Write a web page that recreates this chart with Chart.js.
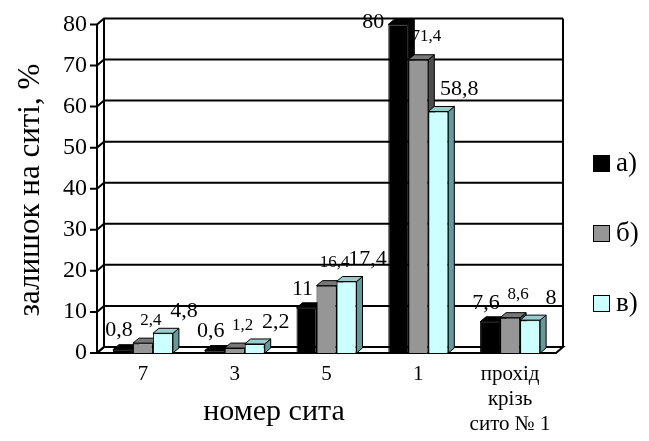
<!DOCTYPE html>
<html>
<head>
<meta charset="utf-8">
<script src="https://cdn.jsdelivr.net/npm/chart.js@4.4.0/dist/chart.umd.min.js"></script>
<style>
  html, body { margin: 0; padding: 0; background: #fff; }
</style>
</head>
<body>
<canvas id="sieveChart" width="649" height="441"></canvas>
<script>
// sieve numbers and percentage retained on each sieve
const categories = ['7', '3', '5', '1', ['прохід', 'крізь', 'сито № 1']];
const seriesNames = ['а)', 'б)', 'в)'];
const seriesA = [0.8, 0.6, 11, 80, 7.6];
const seriesB = [2.4, 1.2, 16.4, 71.4, 8.6];
const seriesC = [4.8, 2.2, 17.4, 58.8, 8];
const yTicks = [0, 10, 20, 30, 40, 50, 60, 70, 80];

const FONT = "'Liberation Serif', 'Times New Roman', serif";
const frontColors = ['#000000', '#969696', '#ccffff'];
const topColors = ['#000000', '#777777', '#99cccc'];
const sideColors = ['#000000', '#4d4d4d', '#669999'];
const labelSizes = [22, 17, 22];
const labelShift = [[-4, -19], [8, -23], [21, -22]];
const wallDepth = [7, -6];
const barDepth = [6, -5];

const fmt = v => String(v).replace('.', ',');

// back wall, floor, left side wall and gridlines
const wallPlugin = {
  id: 'wall',
  beforeDatasetsDraw(chart) {
    const ctx = chart.ctx;
    const { left, right, top, bottom } = chart.chartArea;
    const ys = chart.scales.y;
    const [dx, dy] = wallDepth;
    ctx.save();
    ctx.strokeStyle = '#000';
    ctx.lineWidth = 2;
    ctx.fillStyle = '#fff';
    ctx.beginPath();
    ctx.moveTo(left, bottom);
    ctx.lineTo(right, bottom);
    ctx.lineTo(right + dx, bottom + dy);
    ctx.lineTo(left + dx, bottom + dy);
    ctx.closePath();
    ctx.fill();
    ctx.stroke();
    yTicks.forEach(v => {
      const y = ys.getPixelForValue(v);
      ctx.beginPath();
      ctx.moveTo(left - 7, y);
      ctx.lineTo(left, y);
      ctx.lineTo(left + dx, y + dy);
      ctx.lineTo(right + dx, y + dy);
      ctx.stroke();
    });
    ctx.beginPath();
    ctx.moveTo(left, top);
    ctx.lineTo(left, bottom);
    ctx.moveTo(left + dx, top + dy);
    ctx.lineTo(left + dx, bottom + dy);
    ctx.moveTo(right + dx, top + dy);
    ctx.lineTo(right + dx, bottom + dy);
    ctx.stroke();
    ctx.restore();
  }
};

// top and right faces of every column, left to right
const depthPlugin = {
  id: 'barDepth',
  beforeDatasetsDraw(chart) {
    const ctx = chart.ctx;
    const [dx, dy] = barDepth;
    ctx.save();
    ctx.strokeStyle = '#000';
    ctx.lineWidth = 1;
    ctx.lineJoin = 'round';
    categories.forEach((c, i) => {
      chart.data.datasets.forEach((ds, d) => {
        const el = chart.getDatasetMeta(d).data[i];
        const x0 = el.x - el.width / 2, x1 = el.x + el.width / 2;
        const yt = el.y, yb = el.base;
        ctx.fillStyle = sideColors[d];
        ctx.beginPath();
        ctx.moveTo(x1, yt);
        ctx.lineTo(x1 + dx, yt + dy);
        ctx.lineTo(x1 + dx, yb + dy);
        ctx.lineTo(x1, yb);
        ctx.closePath();
        ctx.fill();
        ctx.stroke();
        ctx.fillStyle = topColors[d];
        ctx.beginPath();
        ctx.moveTo(x0, yt);
        ctx.lineTo(x1, yt);
        ctx.lineTo(x1 + dx, yt + dy);
        ctx.lineTo(x0 + dx, yt + dy);
        ctx.closePath();
        ctx.fill();
        ctx.stroke();
      });
    });
    ctx.restore();
  }
};

// value labels, axis titles and legend
const textPlugin = {
  id: 'texts',
  afterDatasetsDraw(chart) {
    const ctx = chart.ctx;
    const { top } = chart.chartArea;
    ctx.save();
    ctx.fillStyle = '#000';
    ctx.textBaseline = 'middle';
    chart.data.datasets.forEach((ds, d) => {
      ctx.font = labelSizes[d] + 'px ' + FONT;
      chart.getDatasetMeta(d).data.forEach((el, i) => {
        let x = el.x + labelShift[d][0];
        let y = el.y + labelShift[d][1];
        ctx.textAlign = 'center';
        if (y < top) {
          // no room above the column: put the value beside it
          x = el.x - el.width / 2 - 4;
          y = el.y - 2;
          ctx.textAlign = 'right';
        }
        ctx.fillText(fmt(ds.data[i]), x, y);
      });
    });

    ctx.font = '30px ' + FONT;
    ctx.textAlign = 'center';
    ctx.fillText('номер сита', 274, 412);
    ctx.save();
    ctx.translate(31, 190);
    ctx.rotate(-Math.PI / 2);
    ctx.font = '31px ' + FONT;
    ctx.fillText('залишок на ситі, %', 0, 0);
    ctx.restore();

    ctx.font = '27px ' + FONT;
    ctx.textAlign = 'left';
    chart.data.datasets.forEach((ds, d) => {
      const cy = 163 + d * 70;
      ctx.fillStyle = frontColors[d];
      ctx.fillRect(593, cy - 8, 17, 17);
      ctx.strokeStyle = '#000';
      ctx.lineWidth = 1;
      ctx.strokeRect(593.5, cy - 7.5, 16, 16);
      ctx.fillStyle = '#000';
      ctx.fillText(ds.label, 616, cy + 1);
    });
    ctx.restore();
  }
};

new Chart(document.getElementById('sieveChart'), {
  type: 'bar',
  data: {
    labels: categories,
    datasets: [
      { label: seriesNames[0], data: seriesA, backgroundColor: frontColors[0] },
      { label: seriesNames[1], data: seriesB, backgroundColor: frontColors[1] },
      { label: seriesNames[2], data: seriesC, backgroundColor: frontColors[2] }
    ]
  },
  options: {
    responsive: false,
    animation: false,
    devicePixelRatio: 1,
    layout: { padding: { top: 22, right: 93, left: 0, bottom: 0 } },
    datasets: {
      bar: { categoryPercentage: 0.654, barPercentage: 1, borderColor: '#000', borderWidth: 1 }
    },
    plugins: {
      legend: { display: false },
      tooltip: { enabled: false }
    },
    scales: {
      x: {
        grid: { display: false, drawTicks: false },
        border: { display: false },
        ticks: {
          color: '#000', padding: 9, maxRotation: 0, autoSkip: false,
          font: { family: FONT, size: 21, lineHeight: '25px' }
        },
        afterFit: s => { s.height = 88; }
      },
      y: {
        min: 0, max: 80,
        grid: { display: false, drawTicks: false },
        border: { display: false },
        ticks: {
          stepSize: 10, color: '#000', padding: 10,
          font: { family: FONT, size: 24 }
        },
        afterFit: s => { s.width = 97; }
      }
    }
  },
  plugins: [wallPlugin, depthPlugin, textPlugin]
});
</script>
</body>
</html>
